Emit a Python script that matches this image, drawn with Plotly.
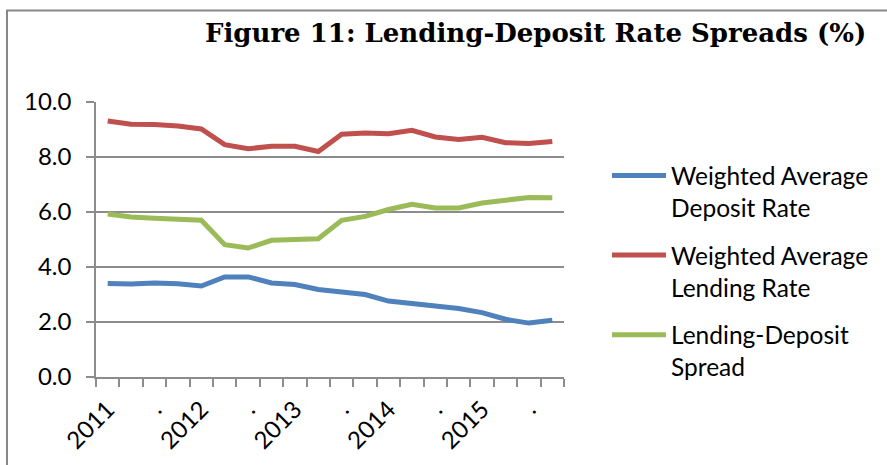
import plotly.graph_objects as go

# ---- data (quarterly, 2011Q1 - 2015Q4) ----
period_labels = ["2011", ".", ".", ".",
                 "2012", ".", ".", ".",
                 "2013", ".", ".", ".",
                 "2014", ".", ".", ".",
                 "2015", ".", ".", "."]

deposit_rate = [3.40, 3.38, 3.42, 3.39, 3.31, 3.64, 3.64, 3.42, 3.36, 3.18,
                3.09, 3.00, 2.76, 2.67, 2.57, 2.49, 2.34, 2.10, 1.96, 2.06]

lending_rate = [9.31, 9.19, 9.18, 9.13, 9.02, 8.45, 8.30, 8.39, 8.39, 8.20,
                8.83, 8.87, 8.85, 8.97, 8.73, 8.64, 8.72, 8.52, 8.49, 8.56]

spread = [5.93, 5.82, 5.77, 5.75, 5.70, 4.81, 4.69, 4.97, 5.02, 5.03,
          5.70, 5.84, 6.09, 6.28, 6.15, 6.15, 6.33, 6.45, 6.53, 6.52]

series_names = ["Weighted Average<br>Deposit Rate",
                "Weighted Average<br>Lending Rate",
                "Lending-Deposit<br>Spread"]
series_colors = ["#4F81BD", "#C0504D", "#9BBB59"]

y_ticks = [0, 2, 4, 6, 8, 10]

title_text = "Figure 11: Lending-Deposit Rate Spreads (%)"

# ---- figure ----
x_idx = list(range(len(period_labels)))
fig = go.Figure()
for i, (name, vals, col) in enumerate(zip(series_names,
                                          [deposit_rate, lending_rate, spread],
                                          series_colors)):
    fig.add_trace(go.Scatter(x=x_idx, y=vals, name=name, mode="lines",
                             legendgroup=str(i),
                             line=dict(color=col, width=5)))

sans = "Lato, 'Open Sans', sans-serif"
grid_col = "#8C8C8C"
fs = 24

L, R, T, B = 96, 323, 102, 88
W, H = 887, 465
pw, ph = W - L - R, H - T - B

fig.update_layout(
    width=W, height=H,
    margin=dict(l=L, r=R, t=T, b=B, pad=0, autoexpand=False),
    paper_bgcolor="white", plot_bgcolor="white",
    font=dict(family=sans, size=fs, color="black"),
    showlegend=True,
    legend=dict(x=(607 - L) / pw, xanchor="left",
                y=(H - B - 153) / ph, yanchor="top",
                font=dict(family=sans, size=24.5, color="black"),
                itemwidth=54, valign="top",
                tracegroupgap=13,
                bgcolor="rgba(0,0,0,0)"),
    title=None,
    annotations=[dict(text="<b>" + title_text + "</b>", xref="paper", yref="paper",
                      x=(535 - L) / pw, y=1 + (T - 50) / ph,
                      xanchor="center", yanchor="bottom", showarrow=False,
                      font=dict(family="DejaVu Serif", size=26, color="black"))],
    shapes=[
        # chart frame (left and top edges visible)
        dict(type="rect", xref="paper", yref="paper",
             x0=(7 - L) / pw, x1=(W + 20 - L) / pw,
             y0=-(B + 20) / ph, y1=1 + (T - 10.5) / ph,
             line=dict(color="#878787", width=2), fillcolor="rgba(0,0,0,0)",
             layer="below"),
    ],
)

fig.update_xaxes(
    automargin=False,
    range=[-0.5, len(period_labels) - 0.5],
    tickmode="array",
    tickvals=x_idx[::2], ticktext=period_labels[::2],
    tickangle=-45, ticks="", showgrid=False, zeroline=False,
    showline=True, linecolor=grid_col, linewidth=1.5,
    tickfont=dict(family=sans, size=fs, color="black"),
    ticklabelstandoff=7,
    minor=dict(tickmode="array",
               tickvals=[i - 0.5 for i in range(len(period_labels) + 1)],
               ticks="outside", ticklen=8, tickwidth=1.5, tickcolor=grid_col,
               showgrid=False),
)
fig.update_yaxes(
    automargin=False,
    range=[0, 10], tickmode="array", tickvals=y_ticks,
    tickformat=".1f", ticks="outside", ticklen=8, tickwidth=1.5, tickcolor=grid_col,
    showgrid=True, gridcolor=grid_col, gridwidth=1.5,
    zeroline=False, showline=True, linecolor=grid_col, linewidth=1.5,
    tickfont=dict(family=sans, size=fs, color="black"),
    ticklabelstandoff=10,
)

fig.write_html("out.html",
               config={"displayModeBar": False},
               post_script="document.body.style.margin='0';document.body.style.padding='0';")
